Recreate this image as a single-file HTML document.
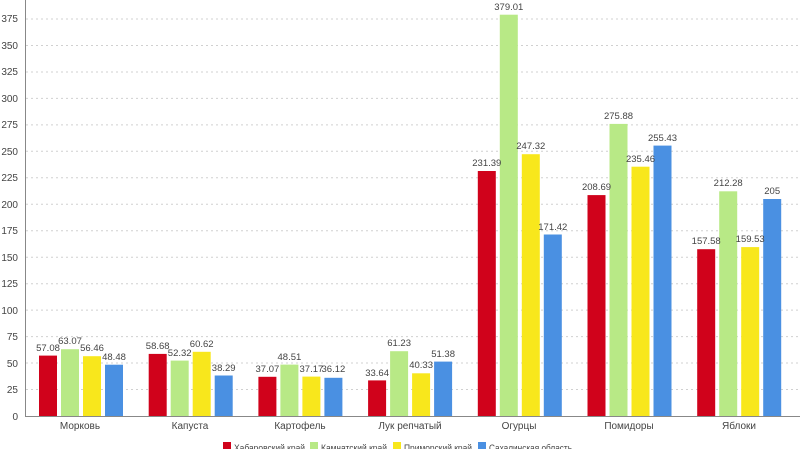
<!DOCTYPE html>
<html><head><meta charset="utf-8"><style>body{margin:0;background:#fff}svg{display:block;font-family:"Liberation Sans",sans-serif}</style></head><body>
<svg width="800" height="449" viewBox="0 0 800 449">
<g stroke="#d0d0d0" stroke-dasharray="2,3" stroke-width="1">
<line x1="26" x2="800" y1="389.5" y2="389.5"/><line x1="26" x2="800" y1="363" y2="363"/><line x1="26" x2="800" y1="336.6" y2="336.6"/><line x1="26" x2="800" y1="310.1" y2="310.1"/><line x1="26" x2="800" y1="283.7" y2="283.7"/><line x1="26" x2="800" y1="257.2" y2="257.2"/><line x1="26" x2="800" y1="230.7" y2="230.7"/><line x1="26" x2="800" y1="204.3" y2="204.3"/><line x1="26" x2="800" y1="177.8" y2="177.8"/><line x1="26" x2="800" y1="151.3" y2="151.3"/><line x1="26" x2="800" y1="124.9" y2="124.9"/><line x1="26" x2="800" y1="98.4" y2="98.4"/><line x1="26" x2="800" y1="72" y2="72"/><line x1="26" x2="800" y1="45.5" y2="45.5"/><line x1="26" x2="800" y1="19" y2="19"/>
</g>
<line x1="25.5" x2="25.5" y1="0" y2="416" stroke="#888"/>
<line x1="25" x2="800" y1="416.5" y2="416.5" stroke="#888"/>
<g font-size="10" fill="#444" text-anchor="end">
<text x="18" y="420">0</text><text x="18" y="393">25</text><text x="18" y="367">50</text><text x="18" y="340">75</text><text x="18" y="314">100</text><text x="18" y="287">125</text><text x="18" y="261">150</text><text x="18" y="234">175</text><text x="18" y="208">200</text><text x="18" y="181">225</text><text x="18" y="155">250</text><text x="18" y="128">275</text><text x="18" y="102">300</text><text x="18" y="75">325</text><text x="18" y="49">350</text><text x="18" y="22">375</text>
</g>
<g>
<rect x="39" y="355.6" width="18" height="60.4" fill="#d0021b"/><rect x="61" y="349.2" width="18" height="66.8" fill="#b8e986"/><rect x="83" y="356.2" width="18" height="59.8" fill="#f8e71c"/><rect x="105" y="364.7" width="18" height="51.3" fill="#4a90e2"/>
<rect x="148.7" y="353.9" width="18" height="62.1" fill="#d0021b"/><rect x="170.7" y="360.6" width="18" height="55.4" fill="#b8e986"/><rect x="192.7" y="351.8" width="18" height="64.2" fill="#f8e71c"/><rect x="214.7" y="375.5" width="18" height="40.5" fill="#4a90e2"/>
<rect x="258.4" y="376.8" width="18" height="39.2" fill="#d0021b"/><rect x="280.4" y="364.6" width="18" height="51.4" fill="#b8e986"/><rect x="302.4" y="376.6" width="18" height="39.4" fill="#f8e71c"/><rect x="324.4" y="377.8" width="18" height="38.2" fill="#4a90e2"/>
<rect x="368.1" y="380.4" width="18" height="35.6" fill="#d0021b"/><rect x="390.1" y="351.2" width="18" height="64.8" fill="#b8e986"/><rect x="412.1" y="373.3" width="18" height="42.7" fill="#f8e71c"/><rect x="434.1" y="361.6" width="18" height="54.4" fill="#4a90e2"/>
<rect x="477.8" y="171" width="18" height="245" fill="#d0021b"/><rect x="499.8" y="14.7" width="18" height="401.3" fill="#b8e986"/><rect x="521.8" y="154.2" width="18" height="261.8" fill="#f8e71c"/><rect x="543.8" y="234.5" width="18" height="181.5" fill="#4a90e2"/>
<rect x="587.5" y="195.1" width="18" height="220.9" fill="#d0021b"/><rect x="609.5" y="123.9" width="18" height="292.1" fill="#b8e986"/><rect x="631.5" y="166.7" width="18" height="249.3" fill="#f8e71c"/><rect x="653.5" y="145.6" width="18" height="270.4" fill="#4a90e2"/>
<rect x="697.2" y="249.2" width="18" height="166.8" fill="#d0021b"/><rect x="719.2" y="191.3" width="18" height="224.7" fill="#b8e986"/><rect x="741.2" y="247.1" width="18" height="168.9" fill="#f8e71c"/><rect x="763.2" y="199" width="18" height="217" fill="#4a90e2"/>
</g>
<g font-size="9.5" fill="#444" text-anchor="middle">
<text x="48" y="351">57.08</text><text x="70" y="344">63.07</text><text x="92" y="351">56.46</text><text x="114" y="360">48.48</text>
<text x="157.7" y="349">58.68</text><text x="179.7" y="356">52.32</text><text x="201.7" y="347">60.62</text><text x="223.7" y="371">38.29</text>
<text x="267.4" y="372">37.07</text><text x="289.4" y="360">48.51</text><text x="311.4" y="372">37.17</text><text x="333.4" y="372">36.12</text>
<text x="377.1" y="376">33.64</text><text x="399.1" y="346">61.23</text><text x="421.1" y="368">40.33</text><text x="443.1" y="357">51.38</text>
<text x="486.8" y="166">231.39</text><text x="508.8" y="10">379.01</text><text x="530.8" y="149">247.32</text><text x="552.8" y="230">171.42</text>
<text x="596.5" y="190">208.69</text><text x="618.5" y="119">275.88</text><text x="640.5" y="162">235.46</text><text x="662.5" y="141">255.43</text>
<text x="706.2" y="244">157.58</text><text x="728.2" y="186">212.28</text><text x="750.2" y="242">159.53</text><text x="772.2" y="194">205</text>
</g>
<g font-size="10" fill="#444" text-anchor="middle">
<text x="80" y="429">Морковь</text><text x="190" y="429">Капуста</text><text x="300" y="429">Картофель</text><text x="410" y="429">Лук репчатый</text><text x="519" y="429">Огурцы</text><text x="629" y="429">Помидоры</text><text x="739" y="429">Яблоки</text>
</g>
<g font-size="9" fill="#444">
<rect x="223" y="442" width="8" height="8" fill="#d0021b"/><text x="234" y="451" textLength="71" lengthAdjust="spacingAndGlyphs">Хабаровский край</text>
<rect x="310" y="442" width="8" height="8" fill="#b8e986"/><text x="321" y="451" textLength="66" lengthAdjust="spacingAndGlyphs">Камчатский край</text>
<rect x="393" y="442" width="8" height="8" fill="#f8e71c"/><text x="404" y="451" textLength="68" lengthAdjust="spacingAndGlyphs">Приморский край</text>
<rect x="478" y="442" width="8" height="8" fill="#4a90e2"/><text x="489" y="451" textLength="83" lengthAdjust="spacingAndGlyphs">Сахалинская область</text>
</g>
</svg>
</body></html>
